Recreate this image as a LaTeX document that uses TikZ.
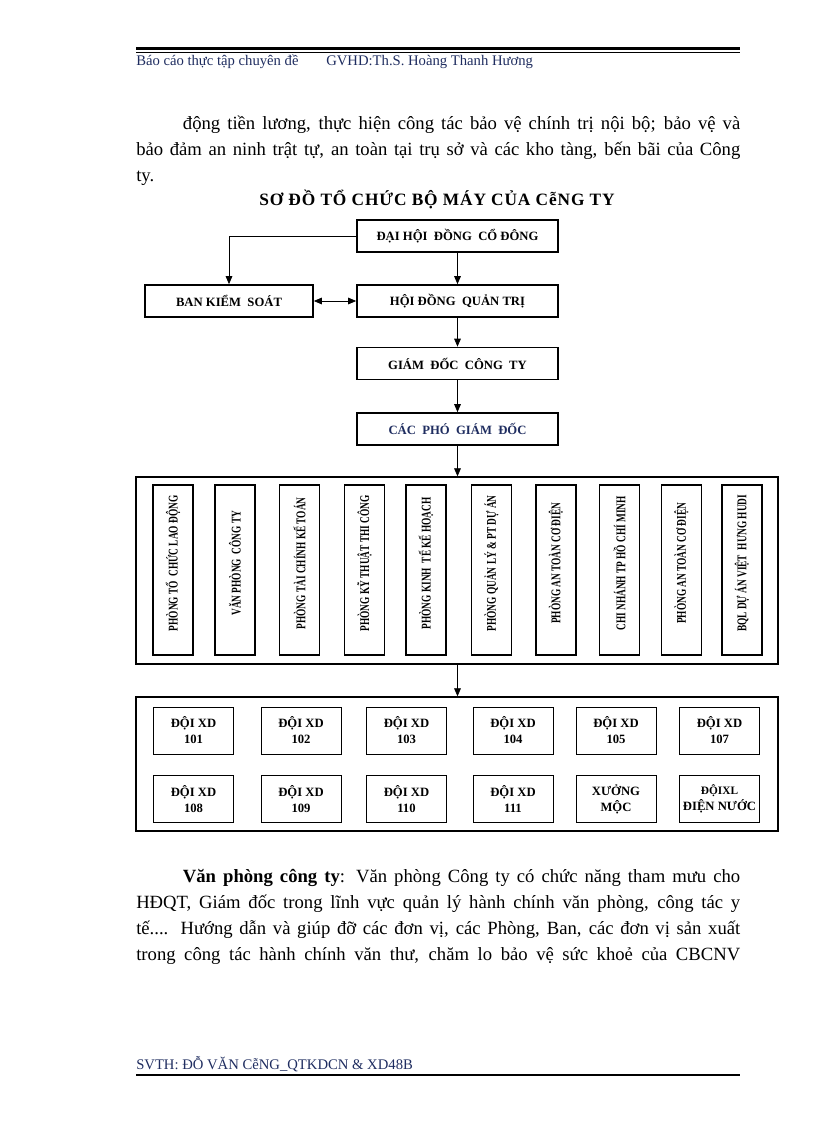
\documentclass[tikz,border=0pt]{standalone}
\usepackage{fontspec}
\setmainfont{Liberation Serif}
\newfontfamily\narrowfont[FakeStretch=0.7]{Liberation Serif}
\newfontfamily\titlefont[LetterSpace=5]{Liberation Serif}
\usetikzlibrary{arrows.meta}
\definecolor{navy}{RGB}{31,45,96}

\tikzset{
  box/.style={draw, line width=1.3pt, minimum width=150.75pt, minimum height=24pt,
    inner sep=0pt, font=\bfseries\fontsize{9.5}{11}\selectfont},
  outerbox/.style={draw, line width=1pt, minimum width=481.5pt, inner sep=0pt},
  dept/.style={draw, line width=1.4pt, rotate=90, minimum width=127.5pt,
    minimum height=30pt, inner sep=0pt, font=\narrowfont\bfseries\fontsize{10}{12}\selectfont},
  team/.style={draw, line width=0.6pt, minimum width=60pt, minimum height=35.25pt,
    inner sep=0pt, align=center, font=\bfseries\fontsize{9.5}{12}\selectfont},
  arr/.style={-{Triangle[length=6pt,width=5pt]}, line width=0.6pt},
  body/.style={anchor=base west, text width=453pt, align=justify, inner sep=0pt,
    font=\fontsize{14}{19.5}\selectfont},
  hdr/.style={anchor=base west, inner sep=0pt, text=navy, font=\fontsize{11}{13}\selectfont}
}

\begin{document}
\begin{tikzpicture}[x=0.75pt, y=-0.75pt]
  \fill[white] (0,0) rectangle (816,1123);
  \useasboundingbox (0,0) rectangle (816,1123);

  % header
  \draw[line width=1.6pt] (136,48.5) -- (740,48.5);
  \draw[line width=0.7pt] (136,52) -- (740,52);
  \node[hdr] (h1) at (136,66) {Báo cáo thực tập chuyên đề};
  \node[hdr] (h2) at (326,66) {GVHD:Th.S. Hoàng Thanh Hương};

  % text above
  \node[body] (par1) at (136,130) {\hspace*{35pt}động tiền lương, thực hiện công tác bảo vệ chính trị nội bộ; bảo vệ và\linebreak
    bảo đảm an ninh trật tự, an toàn tại trụ sở và các kho tàng, bến bãi của Công\linebreak
    ty.};

  \node[anchor=base, inner sep=0pt, font=\titlefont\bfseries\fontsize{13}{15}\selectfont] (title) at (437,206)
    {SƠ ĐỒ TỔ CHỨC BỘ MÁY CỦA CễNG TY};

  % top of the chart
  \node[box] (dh) at (457.5,236) {ĐẠI HỘI \ ĐỒNG \ CỔ ĐÔNG};
  \node[box, minimum width=126pt] (bks) at (229,301) {BAN KIỂM \ SOÁT};
  \node[box] (hd) at (457.5,301) {HỘI ĐỒNG \ QUẢN TRỊ};
  \node[box] (gd) at (457.5,363.5) {GIÁM \ ĐỐC \ CÔNG \ TY};
  \node[box, text=navy] (pgd) at (457.5,429) {CÁC \ PHÓ \ GIÁM \ ĐỐC};

  % phong ban
  \node[outerbox, minimum height=140.25pt] (phong) at (457,570.5) {};
  \foreach \x/\t [count=\i] in {173/{PHÒNG TỔ \ CHỨC LAO ĐỘNG}, 235/{VĂN PHÒNG \ CÔNG TY},
      299.5/{PHÒNG TÀI CHÍNH KẾ TOÁN}, 364.5/{PHÒNG KỸ THUẬT THI CÔNG},
      426/{PHÒNG KINH \ TẾ KẾ HOẠCH}, 491.5/{PHÒNG QUẢN LÝ \& PT DỰ ÁN},
      556/{PHÒNG AN TOÀN CƠ ĐIỆN}, 619.5/{CHI NHÁNH TP HỒ CHÍ MINH},
      681.5/{PHÒNG AN TOÀN CƠ ĐIỆN}, 742/{BQL DỰ ÁN VIỆT \ HƯNG HUDI}}
  {
    \node[dept] (p\i) at (\x,570) {\hspace*{10pt}\t};
  }

  % doi xay dung
  \node[outerbox, minimum height=100.5pt] (doi) at (457,764) {};
  \foreach \x/\t [count=\i] in {193.5/{ĐỘI XD\\101}, 301/{ĐỘI XD\\102}, 406.5/{ĐỘI XD\\103},
      513/{ĐỘI XD\\104}, 616/{ĐỘI XD\\105}, 719.5/{ĐỘI XD\\107}}
  {
    \node[team] (a\i) at (\x,730.5) {\t};
  }
  \foreach \x/\t [count=\i] in {193.5/{ĐỘI XD\\108}, 301/{ĐỘI XD\\109}, 406.5/{ĐỘI XD\\110},
      513/{ĐỘI XD\\111}, 616/{XƯỞNG\\MỘC}, 719.5/{\fontsize{8.5}{11}\selectfont ĐỘIXL\\ĐIỆN NƯỚC}}
  {
    \node[team] (b\i) at (\x,799) {\t};
  }

  % connectors
  \draw[arr] (dh.west) -| (bks.north);
  \draw[arr] (dh) -- (hd);
  \draw[{Triangle[length=6pt,width=5pt]}-{Triangle[length=6pt,width=5pt]}, line width=0.6pt] (bks.east) -- (hd.west);
  \draw[arr] (hd) -- (gd);
  \draw[arr] (gd) -- (pgd);
  \draw[arr] (pgd.south) -- (phong.north -| pgd.south);
  \draw[arr] (phong.south -| pgd.south) -- (doi.north -| pgd.south);

  % text below
  \node[body] (par2) at (136,882) {\hspace*{35pt}\textbf{Văn phòng công ty}: Văn phòng Công ty có chức năng tham mưu cho\linebreak
    HĐQT, Giám đốc trong lĩnh vực quản lý hành chính văn phòng, công tác y\linebreak
    tế.... Hướng dẫn và giúp đỡ các đơn vị, các Phòng, Ban, các đơn vị sản xuất\linebreak
    trong công tác hành chính văn thư, chăm lo bảo vệ sức khoẻ của CBCNV\linebreak\mbox{}};

  % footer
  \node[hdr] (ft) at (136,1069) {SVTH: ĐỖ VĂN CễNG\_QTKDCN \& XD48B};
  \draw[line width=2pt] (136,1075) -- (740,1075);
\end{tikzpicture}
\end{document}
